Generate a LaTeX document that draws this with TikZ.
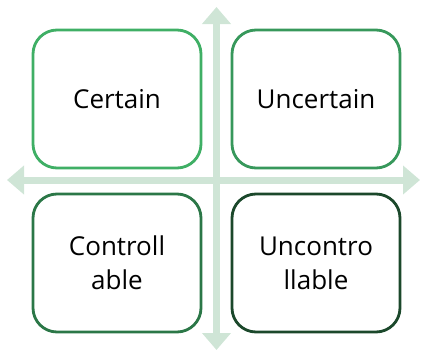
\documentclass[tikz,border=0pt]{standalone}
\usepackage{fontspec}
\setmainfont{Open Sans}
\usetikzlibrary{arrows.meta}
\definecolor{axisgreen}{HTML}{CFE5D6}
\definecolor{greenA}{HTML}{3FAF65}
\definecolor{greenB}{HTML}{37985B}
\definecolor{greenC}{HTML}{2B7747}
\definecolor{greenD}{HTML}{1B482B}
\tikzset{
  quad/.style={draw, fill=white, line width=2.8pt, rounded corners=24pt,
    minimum width=168pt, minimum height=138pt, align=center,
    font=\fontsize{26}{34}\selectfont, text=black, inner sep=0pt},
  axis/.style={draw=axisgreen, line width=7pt,
    {Triangle[width=28pt,length=17pt]}-{Triangle[width=28pt,length=17pt]}}
}
\begin{document}
\begin{tikzpicture}[x=1pt,y=-1pt]
  \useasboundingbox (0,0) rectangle (421,351);
  % axes
  \coordinate (top) at (216.5,7);
  \coordinate (bottom) at (216.5,350);
  \coordinate (left) at (7,180);
  \coordinate (right) at (420,180);
  \draw[axis] (bottom) -- (top);
  \draw[axis] (left) -- (right);
  % quadrants
  \node[quad, draw=greenA] (certain) at (117,99) {Certain};
  \node[quad, draw=greenB] (uncertain) at (316,99) {Uncertain};
  \node[quad, draw=greenC] (controllable) at (117,263) {Controll\\able};
  \node[quad, draw=greenD] (uncontrollable) at (316,263) {Uncontro\\llable};
\end{tikzpicture}
\end{document}
